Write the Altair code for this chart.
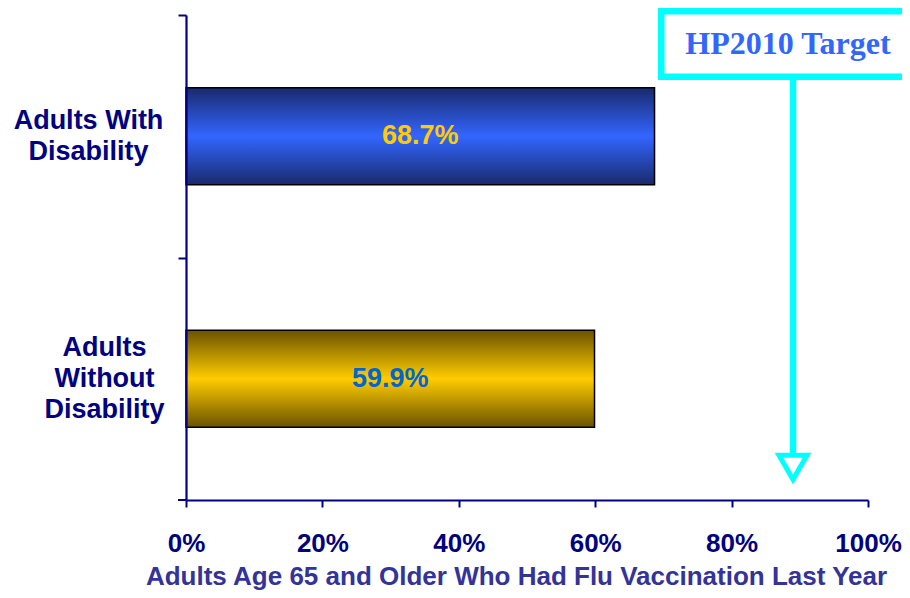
import altair as alt
import pandas as pd

# ---- data ----
categories = ["Adults With|Disability", "Adults|Without|Disability"]
values = [68.7, 59.9]
value_labels = ["68.7%", "59.9%"]
label_colors = ["#ffcc00", "#0066cc"]
x_ticks = [0, 20, 40, 60, 80, 100]
target_value = [89]
target_label = ["HP2010 Target"]
x_title = "Adults Age 65 and Older Who Had Flu Vaccination Last Year"

df = pd.DataFrame({"category": categories, "value": values, "label": value_labels})
tdf = pd.DataFrame({"target": target_value, "text": target_label})

NAVY = "#000080"
CYAN = "#00ffff"
FONT = "Liberation Sans"
SERIF = "Liberation Serif"

W, H = 682, 485
STEP = H / 2
LH = 31

three_lines = "length(split(datum.value, '|')) > 2"

x_scale = alt.Scale(domain=[0, 100], nice=False, zero=True)
y_scale = alt.Scale(domain=categories, paddingInner=0.6, paddingOuter=0.3)

x_axis = alt.Axis(
    values=x_ticks, labelExpr="datum.value + '%'", grid=False, zindex=1,
    labelFont=FONT, labelFontSize=26, labelFontWeight="bold", labelColor=NAVY,
    labelBaseline="alphabetic", labelPadding=44, labelFlush=False, labelOverlap=False,
    tickSize=7, tickColor=NAVY, tickWidth=2, domainColor=NAVY, domainWidth=2.2,
    title=x_title, titleFont=FONT, titleFontSize=26, titleFontWeight="bold",
    titleColor="#333399", titleBaseline="alphabetic", titleAlign="center",
    titleX=330, titleY=84,
)
y_axis = alt.Axis(
    title=None, labelExpr="split(datum.label, '|')", labelAlign="center",
    labelBaseline="middle",
    labelPadding={"condition": {"test": three_lines, "value": 74}, "value": 90},
    labelFont=FONT, labelFontSize=27,
    labelFontWeight="bold", labelColor=NAVY, labelLineHeight=LH, labelLimit=400,
    tickSize=8, tickColor=NAVY, tickWidth=2, zindex=1,
    tickOffset=-STEP / 2,
    labelOffset={"condition": {"test": three_lines, "value": STEP / 2 - LH},
                 "value": STEP / 2 - LH / 2},
    domainColor=NAVY, domainWidth=2.2, grid=False,
)

X_VAL = alt.X("value:Q", scale=x_scale, axis=x_axis)
Y_CAT = alt.Y("category:N", sort=categories, scale=y_scale, axis=y_axis)

base = alt.Chart(df)

def grad(dark, light):
    return alt.LinearGradient(
        gradient="linear", x1=0, x2=0, y1=0, y2=1,
        stops=[alt.GradientStop(offset=0, color=dark),
               alt.GradientStop(offset=0.5, color=light),
               alt.GradientStop(offset=1, color=dark)],
    )

bar1 = base.transform_filter(alt.datum.category == categories[0]).mark_bar(
    fill=grad("#19296b", "#3366ff"), stroke="black", strokeWidth=1.5
).encode(x=X_VAL, y=Y_CAT)
bar2 = base.transform_filter(alt.datum.category == categories[1]).mark_bar(
    fill=grad("#6a5200", "#ffcc00"), stroke="black", strokeWidth=1.5
).encode(x=X_VAL, y=Y_CAT)

texts = base.transform_calculate(mid="datum.value / 2").mark_text(
    font=FONT, fontSize=27, fontWeight="bold", baseline="middle", align="center"
).encode(
    x=alt.X("mid:Q", scale=x_scale, axis=x_axis),
    y=Y_CAT,
    text="label:N",
    color=alt.Color("category:N", scale=alt.Scale(domain=categories, range=label_colors), legend=None),
)

tbase = alt.Chart(tdf)
X_T = alt.X("target:Q", scale=x_scale, axis=x_axis)
bottom_tick = tbase.mark_rule(color=NAVY, strokeWidth=2).encode(
    x=alt.value(-8), x2=alt.value(0), y=alt.value(H)
)
box = tbase.mark_rect(fill="white", stroke=CYAN, strokeWidth=6.5).encode(
    x=alt.value(475.25), x2=alt.value(760), y=alt.value(-3.75), y2=alt.value(61.75)
)
arrow_line = tbase.mark_rule(color=CYAN, strokeWidth=6.5).encode(
    x=X_T, y=alt.value(65), y2=alt.value(445)
)
arrow_head = tbase.mark_point(
    shape="triangle-down", size=784, filled=True, fill="white", stroke=CYAN,
    strokeWidth=5, opacity=1, fillOpacity=1, strokeOpacity=1
).encode(x=X_T, y=alt.value(452.3))
box_text = tbase.mark_text(
    font=SERIF, fontSize=32, fontWeight="bold", color="#3366ff",
    align="center", baseline="alphabetic", dx=-5
).encode(x=X_T, y=alt.value(39.3), text="text:N")

chart = alt.layer(
    bar1, bar2, texts, bottom_tick, box, arrow_line, arrow_head, box_text
).properties(
    width=W, height=H,
    autosize=alt.AutoSizeParams(type="none"),
    padding={"left": 178, "top": 7, "right": 34, "bottom": 90},
    background="white",
).configure_view(stroke=None)

chart.save("out.html", embed_options={"renderer": "svg", "actions": False})
